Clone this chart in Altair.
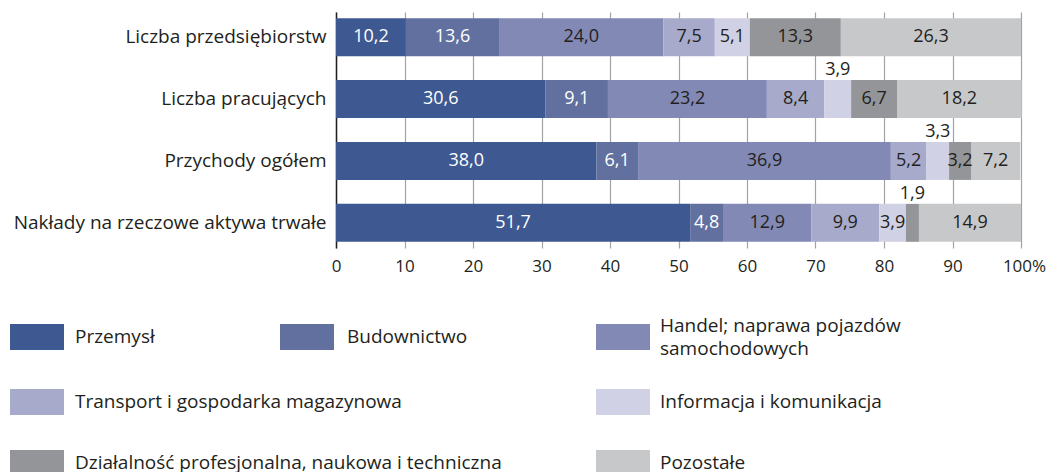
import altair as alt
import pandas as pd

rows = ["Liczba przedsiębiorstw", "Liczba pracujących", "Przychody ogółem",
        "Nakłady na rzeczowe aktywa trwałe"]
sectors = ["Przemysł", "Budownictwo", "Handel; naprawa pojazdów samochodowych",
           "Transport i gospodarka magazynowa", "Informacja i komunikacja",
           "Działalność profesjonalna, naukowa i techniczna", "Pozostałe"]
colors = ["#3E5892", "#62709F", "#8189B4", "#A7AACB", "#D0D1E4", "#939598", "#C7C8CA"]

v_przedsiebiorstwa = [10.2, 13.6, 24.0, 7.5, 5.1, 13.3, 26.3]
v_pracujacy = [30.6, 9.1, 23.2, 8.4, 3.9, 6.7, 18.2]
v_przychody = [38.0, 6.1, 36.9, 5.2, 3.3, 3.2, 7.2]
v_naklady = [51.7, 4.8, 12.9, 9.9, 3.9, 1.9, 14.9]

# labels printed above the bar instead of inside
above = [("Liczba pracujących", "Informacja i komunikacja"),
         ("Przychody ogółem", "Informacja i komunikacja"),
         ("Nakłady na rzeczowe aktywa trwałe", "Działalność profesjonalna, naukowa i techniczna")]

legend_text = ["Przemysł", "Budownictwo", "Handel; naprawa pojazdów\nsamochodowych",
               "Transport i gospodarka magazynowa", "Informacja i komunikacja",
               "Działalność profesjonalna, naukowa i techniczna", "Pozostałe"]
legend_col = [0, 1, 2, 0, 2, 0, 2]
legend_row = [0, 0, 0, 1, 1, 2, 2]

recs = []
for r, vals in zip(rows, [v_przedsiebiorstwa, v_pracujacy, v_przychody, v_naklady]):
    for i, (s, v) in enumerate(zip(sectors, vals)):
        recs.append({"row": r, "sector": s, "order": i, "value": v,
                     "above": (r, s) in above})
df = pd.DataFrame(recs)

leg = pd.DataFrame({"sector": sectors, "label": legend_text,
                    "col": legend_col, "row": legend_row})

FONT = "Open Sans"
DARK = "#231F20"

color_scale = alt.Scale(domain=sectors, range=colors)
y_enc = alt.Y("row:N", sort=rows, title=None,
              scale=alt.Scale(paddingInner=0.387, paddingOuter=0.1),
              axis=alt.Axis(labelFont=FONT, labelFontSize=19, labelColor=DARK,
                            labelPadding=10, ticks=False, domain=True,
                            domainColor="#231F20", domainWidth=1.5, grid=False,
                            labelLimit=400))

base = alt.Chart(df).transform_stack(
    stack="value", groupby=["row"], as_=["x0", "x1"],
    sort=[alt.SortField("order", order="ascending")]
).transform_calculate(
    mid="(datum.x0 + datum.x1) / 2",
    lbl="replace(format(datum.value, '.1f'), '.', ',')"
)

x_scale = alt.Scale(domain=[0, 100], nice=False)

bars = base.mark_bar().encode(
    x=alt.X("x0:Q", scale=x_scale, title=None,
            axis=alt.Axis(values=list(range(0, 101, 10)), grid=True,
                          gridColor="#A3A3A3", gridWidth=1.2, domain=False,
                          ticks=False, labelFont=FONT, labelFontSize=17,
                          labelColor=DARK, labelPadding=10, labelFlush=False,
                          labelExpr="datum.value == 100 ? '100%' : datum.label",
                          labelOffset={"condition": {"test": "datum.value == 100", "value": 3},
                                       "value": 0})),
    x2="x1:Q",
    y=y_enc,
    color=alt.Color("sector:N", scale=color_scale, legend=None),
)

inside = base.transform_filter("!datum.above").mark_text(
    font=FONT, fontSize=18, baseline="middle", align="center"
).encode(
    x=alt.X("mid:Q", scale=x_scale),
    y=alt.Y("row:N", sort=rows),
    text="lbl:N",
    color=alt.condition("datum.order <= 1", alt.value("white"), alt.value(DARK)),
)

outside = base.transform_filter("datum.above").mark_text(
    font=FONT, fontSize=18, baseline="middle", align="center", dy=-29, color=DARK
).encode(
    x=alt.X("mid:Q", scale=x_scale),
    y=alt.Y("row:N", sort=rows),
    text="lbl:N",
)

main = alt.layer(bars, inside, outside)

row_scale = alt.Scale(domain=[0, 1, 2], range=[325, 390, 451])
text_x = alt.X("col:Q", axis=None, scale=alt.Scale(domain=[0, 1, 2], range=[-261, 11, 324]))

swatches = alt.Chart(leg).mark_rect(width=54, height=26).encode(
    x=alt.X("col:Q", axis=None, scale=alt.Scale(domain=[0, 1, 2], range=[-299, -29, 287])),
    y=alt.Y("row:Q", axis=None, scale=row_scale),
    color=alt.Color("sector:N", scale=color_scale, legend=None),
)
leg_text_base = alt.Chart(leg).transform_calculate(
    nlines="length(split(datum.label, '\\n'))"
)
texts1 = leg_text_base.transform_filter("datum.nlines == 1").mark_text(
    font=FONT, fontSize=19, align="left", baseline="middle", color=DARK
).encode(
    x=text_x,
    y=alt.Y("row:Q", axis=None, scale=row_scale),
    text="label:N",
)
texts2 = leg_text_base.transform_filter("datum.nlines > 1").mark_text(
    font=FONT, fontSize=19, align="left", baseline="middle", color=DARK,
    lineBreak="\n", lineHeight=23, dy=-11.5
).encode(
    x=text_x,
    y=alt.Y("row:Q", axis=None, scale=row_scale),
    text="label:N",
)
legend = alt.layer(swatches, texts1, texts2).resolve_scale(x="independent")

chart = alt.layer(main, legend).resolve_scale(
    x="independent", y="independent"
).properties(
    width=685, height=236,
    padding={"left": 2, "top": 4, "right": 0, "bottom": 0},
).configure_view(stroke=None)

chart.save("out.html", embed_options={"renderer": "svg", "actions": False})
